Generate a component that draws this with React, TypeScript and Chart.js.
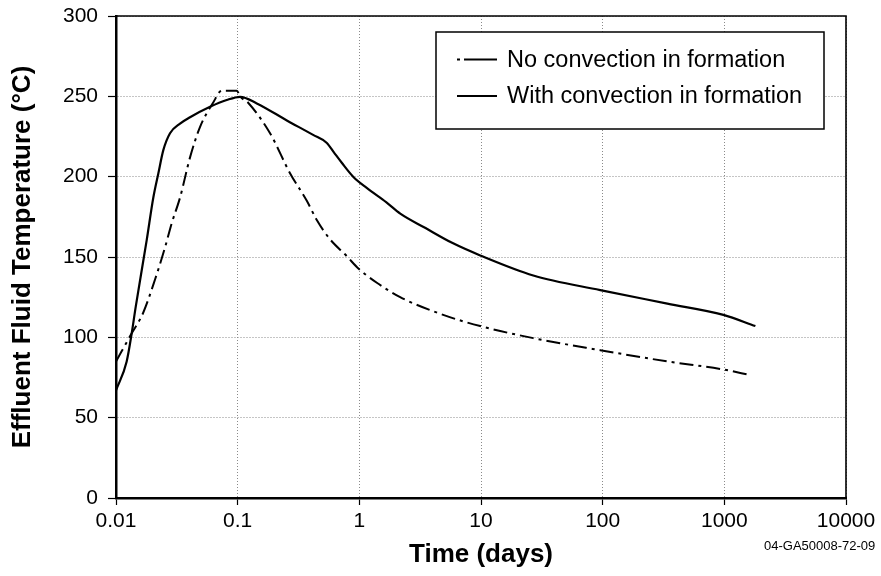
import { useEffect, useRef } from "react";
import { Chart, registerables } from "chart.js";

Chart.register(...registerables);

const FONT = '"Liberation Sans", Arial, Helvetica, sans-serif';

const xTicks = [0.01, 0.1, 1, 10, 100, 1000, 10000];
const xTickLabels = ["0.01", "0.1", "1", "10", "100", "1000", "10000"];
const yTicks = [0, 50, 100, 150, 200, 250, 300];

const seriesNames = ["No convection in formation", "With convection in formation"];
const xTitle = "Time (days)";
const yTitle = "Effluent Fluid Temperature (°C)";
const footnote = "04-GA50008-72-09";

const noConvTime = [
  0.01, 0.01346, 0.01667, 0.02093, 0.0253, 0.0287, 0.0336, 0.0406, 0.0491, 0.0628,
  0.074, 0.0984, 0.1047, 0.1219, 0.1846, 0.27, 0.37, 0.447, 0.575, 0.789, 0.977,
  1.392, 2.166, 4.89, 9.85, 26.9, 95.5, 340, 982, 1637,
];
const noConvTemp = [
  85, 102.5, 115, 136, 156, 171, 187, 212, 231, 246,
  253.5, 253.5, 250, 246, 227, 202, 185, 173, 161, 150.5, 143,
  134, 125, 114, 107, 99.5, 92, 85, 80, 76.5,
];

const convTime = [
  0.01, 0.01224, 0.01346, 0.01452, 0.01788, 0.02027, 0.02228, 0.02449, 0.0278, 0.0336,
  0.0406, 0.0593, 0.0813, 0.1047, 0.1436, 0.2535, 0.417, 0.541, 0.62, 0.72, 0.89,
  1.15, 1.67, 2.17, 3.5, 5.9, 9.85, 26.9, 95.5, 340, 982, 1800,
];
const convTemp = [
  67, 85, 102.5, 119, 160.5, 187, 202, 216.5, 227, 233,
  237, 243.5, 247.7, 249.7, 245.6, 235, 226, 221, 215, 208.5, 200,
  193, 184, 177, 168, 158.5, 151, 138.5, 129.4, 121, 114, 107,
];

const dashDot = [14, 5, 3, 5];

const overlayPlugin = {
  id: "overlay",
  afterDraw(chart: any) {
    const { ctx, chartArea: a } = chart;
    ctx.save();
    // top & right frame
    ctx.strokeStyle = "#000";
    ctx.lineWidth = 1.6;
    ctx.setLineDash([]);
    ctx.beginPath();
    ctx.moveTo(a.left, a.top);
    ctx.lineTo(a.right, a.top);
    ctx.lineTo(a.right, a.bottom);
    ctx.stroke();

    // legend box
    const bx = a.right - 410;
    const by = a.top + 16;
    const bw = 388;
    const bh = 97;
    ctx.fillStyle = "#fff";
    ctx.fillRect(bx, by, bw, bh);
    ctx.lineWidth = 1.5;
    ctx.strokeRect(bx, by, bw, bh);

    const rows = [by + 27.5, by + 64];
    ctx.lineWidth = 2;
    // row 1: dash-dot sample
    ctx.beginPath();
    ctx.moveTo(bx + 21, rows[0]);
    ctx.lineTo(bx + 24, rows[0]);
    ctx.moveTo(bx + 28, rows[0]);
    ctx.lineTo(bx + 61, rows[0]);
    ctx.stroke();
    // row 2: solid sample
    ctx.beginPath();
    ctx.moveTo(bx + 21, rows[1]);
    ctx.lineTo(bx + 61, rows[1]);
    ctx.stroke();

    ctx.fillStyle = "#000";
    ctx.font = `23.5px ${FONT}`;
    ctx.textAlign = "left";
    ctx.textBaseline = "middle";
    ctx.fillText(seriesNames[0], bx + 71, rows[0] + 1);
    ctx.fillText(seriesNames[1], bx + 71, rows[1] + 1);

    // footnote
    ctx.font = `13px ${FONT}`;
    ctx.textBaseline = "alphabetic";
    ctx.fillText(footnote, chart.width - 117, chart.height - 26);
    ctx.restore();
  },
};

export default function App() {
  const ref = useRef<HTMLCanvasElement | null>(null);

  useEffect(() => {
    document.body.style.margin = "0";
    const canvas = ref.current;
    if (!canvas) return;

    const noConvData = noConvTime.map((t, i) => ({ x: t, y: noConvTemp[i] }));
    const convData = convTime.map((t, i) => ({ x: t, y: convTemp[i] }));

    const chart = new Chart(canvas, {
      type: "line",
      data: {
        datasets: [
          {
            label: seriesNames[0],
            data: noConvData,
            borderColor: "#000",
            borderWidth: 2,
            borderDash: dashDot,
            pointRadius: 0,
            fill: false,
            cubicInterpolationMode: "monotone",
          },
          {
            label: seriesNames[1],
            data: convData,
            borderColor: "#000",
            borderWidth: 2.2,
            pointRadius: 0,
            fill: false,
            cubicInterpolationMode: "monotone",
          },
        ],
      },
      options: {
        responsive: false,
        animation: false,
        devicePixelRatio: 1,
        layout: { padding: { left: 0, top: 16, right: 35, bottom: 0 } },
        plugins: {
          legend: { display: false },
          tooltip: { enabled: false },
        },
        scales: {
          x: {
            type: "logarithmic",
            min: 0.01,
            max: 10000,
            afterBuildTicks: (s: any) => {
              s.ticks = xTicks.map((v) => ({ value: v }));
            },
            afterFit: (s: any) => {
              s.height = 78;
              s.paddingLeft = 0;
              s.paddingRight = 0;
            },
            ticks: {
              autoSkip: false,
              maxRotation: 0,
              minRotation: 0,
              color: "#000",
              padding: 4,
              font: { family: FONT, size: 21 },
              callback: (_v: any, i: number) => xTickLabels[i],
            },
            grid: {
              color: "#8a8a8a",
              lineWidth: 1,
              drawTicks: true,
              tickLength: 7,
              tickColor: "#000",
              tickWidth: 1.2,
            },
            border: { color: "#000", width: 2.5, dash: [1, 2] },
            title: {
              display: true,
              text: xTitle,
              color: "#000",
              font: { family: FONT, size: 26, weight: "bold" },
              padding: { top: 0, bottom: 6 },
            },
          },
          y: {
            type: "linear",
            min: 0,
            max: 300,
            afterBuildTicks: (s: any) => {
              s.ticks = yTicks.map((v) => ({ value: v }));
            },
            afterFit: (s: any) => {
              s.width = 116;
              s.paddingTop = 0;
              s.paddingBottom = 0;
            },
            ticks: {
              color: "#000",
              padding: 10,
              font: { family: FONT, size: 21 },
            },
            grid: {
              color: "#8a8a8a",
              lineWidth: 1,
              drawTicks: true,
              tickLength: 8,
              tickColor: "#000",
              tickWidth: 1.2,
            },
            border: { color: "#000", width: 2.5, dash: [1, 2] },
            title: {
              display: true,
              text: yTitle,
              color: "#000",
              font: { family: FONT, size: 26, weight: "bold" },
              padding: { top: 7, bottom: 0 },
            },
          },
        },
      },
      plugins: [overlayPlugin],
    } as any);

    return () => chart.destroy();
  }, []);

  return (
    <div style={{ width: 881, height: 576 }}>
      <canvas ref={ref} width={881} height={576} style={{ display: "block" }} />
    </div>
  );
}
